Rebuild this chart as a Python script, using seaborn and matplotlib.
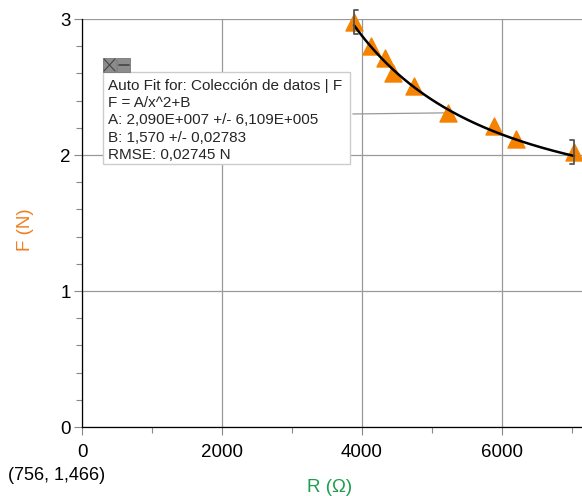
import matplotlib
matplotlib.use("Agg")
import matplotlib.pyplot as plt
from matplotlib.patches import Rectangle
import numpy as np
import pandas as pd
import seaborn as sns

# datos medidos
R_ohm = [3886, 4124, 4329, 4438, 4743, 5224, 5886, 6200, 7029]
F_N = [2.98, 2.80, 2.71, 2.60, 2.51, 2.31, 2.21, 2.12, 2.02]

# parametros del ajuste F = A/x^2+B
A_fit = 2.090e7
B_fit = 1.570

fit_lines = ["Auto Fit for: Colección de datos | F",
             "F = A/x^2+B",
             "A: 2,090E+007 +/- 6,109E+005",
             "B: 1,570 +/- 0,02783",
             "RMSE: 0,02745 N"]

sns.set_style("white")
plt.rcParams['font.family'] = ['Liberation Sans', 'DejaVu Sans']

W, H = 582, 496
fig = plt.figure(figsize=(W / 100, H / 100), dpi=100)


def px(x, y):
    # pixel (desde arriba-izquierda) -> fraccion de figura
    return x / W, 1 - y / H


ax = fig.add_axes([82 / W, 69 / H, 500 / W, 408 / H])

df = pd.DataFrame({'R': R_ohm, 'F': F_N})
x_fit = np.linspace(min(R_ohm), max(R_ohm), 200)
df_fit = pd.DataFrame({'R': x_fit, 'F': A_fit / x_fit**2 + B_fit})

sns.lineplot(data=df_fit, x='R', y='F', ax=ax, color='black', lw=1.8, zorder=4)
sns.scatterplot(data=df, x='R', y='F', ax=ax, marker='^', s=150,
                color='#F58200', edgecolor='#F58200', zorder=3, clip_on=False)

# corchetes del rango del ajuste
bx0, by0 = R_ohm[0], F_N[0]
bx1, by1 = R_ohm[-1], F_N[-1]
dy, dx = 0.088, 55
ax.plot([bx0 + dx, bx0, bx0, bx0 + dx], [by0 + dy, by0 + dy, by0 - dy, by0 - dy],
        color='#555555', lw=1.3, clip_on=False, zorder=5)
ax.plot([bx1 - dx, bx1, bx1, bx1 - dx], [by1 + dy, by1 + dy, by1 - dy, by1 - dy],
        color='#555555', lw=1.3, clip_on=False, zorder=5)

ax.set_xlim(0, 7143)
ax.set_ylim(0, 3)
ax.set_xticks([0, 2000, 4000, 6000])
ax.set_xticks([1000, 3000, 5000, 7000], minor=True)
ax.set_yticks([0, 1, 2, 3])
ax.set_yticks(np.arange(0, 3, 0.2), minor=True)
ax.grid(True, which='major', color='#999999', lw=0.9)
ax.tick_params(which='major', direction='out', length=6, width=0.8, colors='#888888',
               labelcolor='black', labelsize=13.5, pad=2)
ax.tick_params(which='minor', direction='out', length=4, width=0.8, colors='#888888')
ax.tick_params(axis='x', which='major', pad=6)
ax.tick_params(axis='x', which='both', bottom=True)
ax.tick_params(axis='y', which='both', left=True)
for s in ['top', 'right']:
    ax.spines[s].set_visible(False)
ax.spines['left'].set_color('black')
ax.spines['bottom'].set_color('black')
ax.spines['left'].set_linewidth(0.9)
ax.spines['bottom'].set_linewidth(0.9)

ax.set_xlabel('')
ax.set_ylabel('')
fig.text(*px(330, 487), 'R (Ω)', color='#1E9E50', fontsize=13.5, ha='center', va='center')
fig.text(*px(25, 230), 'F (N)', color='#F08020', fontsize=13.5, ha='center', va='center',
         rotation=90)
fig.text(*px(8, 476), '(756, 1,466)', color='black', fontsize=13, ha='left', va='center')

# cuadro del ajuste
bl, bt, br, bb = 103, 72, 350, 164
x0, y0 = px(bl, bb)
fig.add_artist(Rectangle((x0, y0), (br - bl) / W, (bb - bt) / H, transform=fig.transFigure,
                         facecolor='white', edgecolor='#cccccc', lw=1, zorder=10))
for i, col in enumerate(['#8c8c8c', '#8c8c8c']):
    ix, iy = px(103 + i * 14, 72)
    fig.add_artist(Rectangle((ix, iy), 13 / W, 14 / H, transform=fig.transFigure,
                             facecolor=col, edgecolor='#777777', lw=0.6, zorder=11))
fig.add_artist(plt.Line2D([px(104, 0)[0], px(115, 0)[0]], [px(0, 59)[1], px(0, 71)[1]],
                          color='#444444', lw=0.8, zorder=12))
fig.add_artist(plt.Line2D([px(104, 0)[0], px(115, 0)[0]], [px(0, 71)[1], px(0, 59)[1]],
                          color='#444444', lw=0.8, zorder=12))
fig.add_artist(plt.Line2D([px(119, 0)[0], px(129, 0)[0]], [px(0, 65)[1], px(0, 65)[1]],
                          color='#444444', lw=1.2, zorder=12))
for i, t in enumerate(fit_lines):
    fig.text(*px(108, 86 + i * 17.2), t, fontsize=11, ha='left', va='center', zorder=13)

# linea guia hacia el punto
lx, ly = px(br, 114)
ax.annotate('', xy=(R_ohm[5], F_N[5]), xytext=(lx, ly), textcoords='figure fraction',
            arrowprops=dict(arrowstyle='-', color='#999999', lw=0.9), zorder=2)

fig.savefig('out.png', dpi=100)
